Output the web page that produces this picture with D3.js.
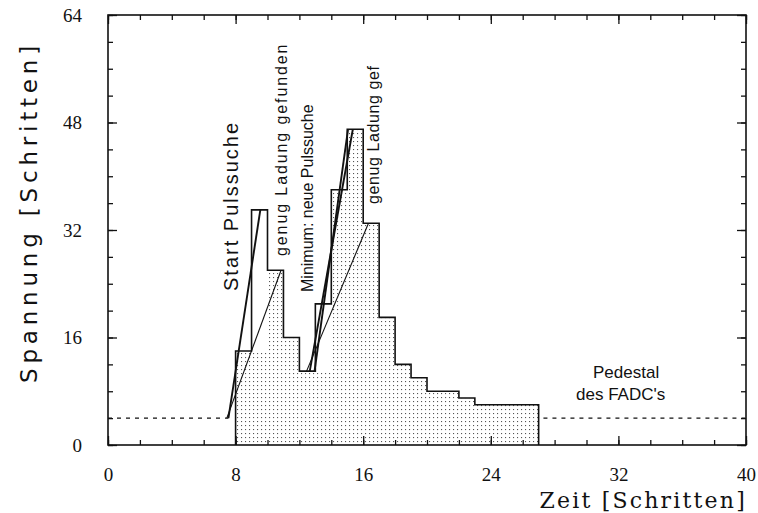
<!DOCTYPE html>
<html>
<head>
<meta charset="utf-8">
<script src="https://cdn.jsdelivr.net/npm/d3@7"></script>
<style>
  html, body { margin: 0; padding: 0; background: #fff; }
  svg { display: block; }
</style>
</head>
<body>
<svg id="chart" width="758" height="513"></svg>
<script>
// ---------------- data ----------------
const binStarts   = [8, 9, 10, 11, 12, 13, 14, 15, 16, 17, 18, 19, 20, 21, 22, 23, 24, 25, 26];
const counts      = [14, 35, 26, 16, 11, 21, 38, 47, 33, 19, 12, 10, 8, 8, 7, 6, 6, 6, 6];
const shadeLevels = [14, 14, 26, 16, 11, 11, 38, 47, 33, 19, 12, 10, 8, 8, 7, 6, 6, 6, 6];
const binWidth = 1;

const pedestalValue = 4;
const pedestalLeft  = [0, 7.55];
const pedestalRight = [27.3, 40];

// slope lines [x1, y1, x2, y2]
const thickLines = [
  [7.55, 4, 9.55, 35],
  [12.65, 11, 15.35, 47],
  [12.95, 11, 15.05, 47]
];
const thinLines = [
  [7.45, 4, 10.85, 26],
  [12.45, 11, 16.33, 33]
];

const xTickLabels = [0, 8, 16, 24, 32, 40];
const yTickLabels = [0, 16, 32, 48, 64];
const xMinorTicks = d3.range(0, 41, 2);
const yMinorTicks = d3.range(0, 65, 4);

const xTitle = "Zeit [Schritten]";
const yTitle = "Spannung [Schritten]";

const annotationTexts = ["Start Pulssuche", "genug Ladung gefunden", "Minimum: neue Pulssuche", "genug Ladung gef"];
const pedestalTexts = ["Pedestal", "des FADC's"];

// ---------------- layout ----------------
const svg = d3.select("#chart");
const L = 108, R = 746, T = 15, B = 445;
const x = d3.scaleLinear().domain([0, 40]).range([L, R]);
const y = d3.scaleLinear().domain([0, 64]).range([B, T]);
const ink = "#111";

const defs = svg.append("defs");
const pat = defs.append("pattern").attr("id", "dots")
  .attr("patternUnits", "userSpaceOnUse").attr("width", 4).attr("height", 4);
pat.append("rect").attr("x", 1).attr("y", 1).attr("width", 1.1).attr("height", 1.1).attr("fill", "#555");

// stipple shading
svg.append("g").selectAll("rect").data(binStarts).join("rect")
  .attr("x", (d) => x(d))
  .attr("width", (d) => x(d + binWidth) - x(d))
  .attr("y", (d, i) => y(shadeLevels[i]))
  .attr("height", (d, i) => y(0) - y(shadeLevels[i]))
  .attr("fill", "url(#dots)");

// histogram outline
const pts = [[binStarts[0], 0]];
binStarts.forEach((b, i) => { pts.push([b, counts[i]]); pts.push([b + binWidth, counts[i]]); });
pts.push([binStarts[binStarts.length - 1] + binWidth, 0]);
const line = d3.line().x((d) => x(d[0])).y((d) => y(d[1]));
svg.append("path").attr("d", line(pts)).attr("fill", "none")
  .attr("stroke", ink).attr("stroke-width", 1.6);

// pedestal dashed lines
[pedestalLeft, pedestalRight].forEach((seg) => {
  svg.append("line")
    .attr("x1", x(seg[0])).attr("x2", x(seg[1]))
    .attr("y1", y(pedestalValue)).attr("y2", y(pedestalValue))
    .attr("stroke", ink).attr("stroke-width", 1.1).attr("stroke-dasharray", "4,5");
});

// slope lines
svg.append("g").selectAll("line").data(thickLines).join("line")
  .attr("x1", (d) => x(d[0])).attr("y1", (d) => y(d[1]))
  .attr("x2", (d) => x(d[2])).attr("y2", (d) => y(d[3]))
  .attr("stroke", ink).attr("stroke-width", 1.9);
svg.append("g").selectAll("line").data(thinLines).join("line")
  .attr("x1", (d) => x(d[0])).attr("y1", (d) => y(d[1]))
  .attr("x2", (d) => x(d[2])).attr("y2", (d) => y(d[3]))
  .attr("stroke", ink).attr("stroke-width", 1.1);

// frame
svg.append("rect").attr("x", L).attr("y", T).attr("width", R - L).attr("height", B - T)
  .attr("fill", "none").attr("stroke", ink).attr("stroke-width", 1.6);

// axes (ticks inward)
function styleAxis(g) {
  g.select(".domain").remove();
  g.selectAll(".tick line").attr("stroke", ink).attr("stroke-width", 1.3);
  g.selectAll("text").attr("fill", ink).attr("font-family", "Liberation Serif, Times New Roman, serif").attr("font-size", 19);
}
svg.append("g").attr("transform", `translate(0,${B})`)
  .call(d3.axisBottom(x).tickValues(xMinorTicks).tickSize(-5).tickFormat("")).call(styleAxis);
svg.append("g").attr("transform", `translate(0,${B})`)
  .call(d3.axisBottom(x).tickValues(xTickLabels).tickSizeInner(-9).tickSizeOuter(0).tickPadding(23).tickFormat(d3.format("d"))).call(styleAxis);
svg.append("g").attr("transform", `translate(0,${T})`)
  .call(d3.axisTop(x).tickValues(xMinorTicks).tickSize(-5).tickFormat("")).call(styleAxis);
svg.append("g").attr("transform", `translate(0,${T})`)
  .call(d3.axisTop(x).tickValues(xTickLabels).tickSize(-9).tickFormat("")).call(styleAxis);

svg.append("g").attr("transform", `translate(${L},0)`)
  .call(d3.axisLeft(y).tickValues(yMinorTicks).tickSize(-5).tickFormat("")).call(styleAxis);
svg.append("g").attr("transform", `translate(${L},0)`)
  .call(d3.axisLeft(y).tickValues(yTickLabels).tickSizeInner(-9).tickSizeOuter(0).tickPadding(26).tickFormat(d3.format("d"))).call(styleAxis);
svg.append("g").attr("transform", `translate(${R},0)`)
  .call(d3.axisRight(y).tickValues(yMinorTicks).tickSize(-5).tickFormat("")).call(styleAxis);
svg.append("g").attr("transform", `translate(${R},0)`)
  .call(d3.axisRight(y).tickValues(yTickLabels).tickSize(-9).tickFormat("")).call(styleAxis);

// axis titles
svg.append("text").text(xTitle)
  .attr("x", 747).attr("y", 508).attr("text-anchor", "end")
  .attr("font-family", "DejaVu Serif, serif").attr("font-size", 22)
  .attr("letter-spacing", 2.2).attr("fill", ink);
svg.append("text").text(yTitle)
  .attr("transform", "translate(37,212) rotate(-90)").attr("text-anchor", "middle")
  .attr("font-family", "DejaVu Sans, sans-serif").attr("font-size", 23)
  .attr("letter-spacing", 4.8).attr("fill", ink);

// rotated annotations
const annLayout = [
  { bx: 238, by: 291, size: 20, ls: 2.0 },
  { bx: 287, by: 256, size: 16, ls: 1.9 },
  { bx: 313, by: 292, size: 16, ls: 0 },
  { bx: 379, by: 204, size: 16, ls: 0.6 }
];
annotationTexts.forEach((t, i) => {
  const a = annLayout[i];
  svg.append("text").text(t)
    .attr("transform", `translate(${a.bx},${a.by}) rotate(-90)`)
    .attr("text-anchor", "start")
    .attr("font-family", "Liberation Sans, Arial, sans-serif")
    .attr("font-size", a.size).attr("letter-spacing", a.ls).attr("fill", ink);
});

// pedestal label
const pedLayout = [{ px: 593, py: 378 }, { px: 576, py: 400 }];
pedestalTexts.forEach((t, i) => {
  svg.append("text").text(t)
    .attr("x", pedLayout[i].px).attr("y", pedLayout[i].py)
    .attr("font-family", "Liberation Sans, Arial, sans-serif")
    .attr("font-size", 17).attr("fill", ink);
});
</script>
</body>
</html>
